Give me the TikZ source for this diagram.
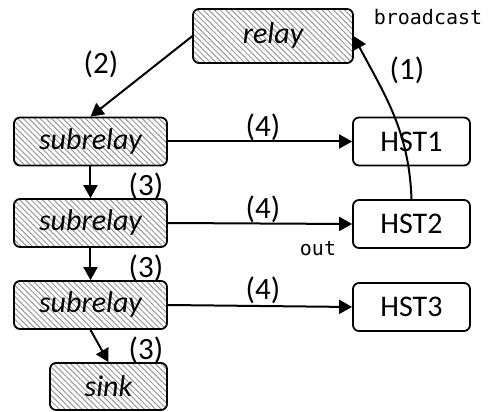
\documentclass[tikz,border=0pt]{standalone}
\usepackage{fontspec}
\setmainfont{Carlito}
\newfontfamily\monofont{DejaVu Sans Mono}
\usetikzlibrary{arrows.meta, patterns.meta}

\begin{document}
\begin{tikzpicture}[x=0.5pt, y=-0.5pt,
    box/.style={draw, line width=0.9pt, rounded corners=3pt, inner sep=0pt,
                minimum width=58.5pt, minimum height=24pt, font=\fontsize{15}{18}\selectfont},
    hatched/.style={box, pattern={Lines[angle=-45, distance=2pt, line width=0.5pt]}, pattern color=gray!80, font=\fontsize{15}{18}\selectfont\itshape},
    flow/.style={-{Triangle[length=6.5pt, width=7pt]}, line width=1pt},
    lbl/.style={font=\fontsize{15.5}{18}\selectfont},
    code/.style={font=\monofont\fontsize{10}{12}\selectfont}]

    \useasboundingbox (0,0) rectangle (489,412);

    % Column positions
    \def\xs{90.5}    % subrelay column
    \def\xh{411.5}   % host column

    % Relays
    \node[hatched, minimum width=80pt, minimum height=27pt] (relay) at (273, 36) {relay};
    \node[hatched, minimum width=76.5pt] (sub1) at (\xs, 141.5) {subrelay};
    \node[hatched, minimum width=76.5pt] (sub2) at (\xs, 223) {subrelay};
    \node[hatched, minimum width=76.5pt] (sub3) at (\xs, 305) {subrelay};
    \node[hatched, minimum height=23.5pt] (sink) at (108.5, 386.5) {sink};

    % Hosts
    \node[box] (hst1) at (\xh, 141.5) {HST1};
    \node[box] (hst2) at (\xh, 224) {HST2};
    \node[box] (hst3) at (\xh, 307) {HST3};

    % Arrows
    \draw[flow] (relay.west) -- (sub1.north);
    \draw[flow] (sub1.south) -- (sub2.north);
    \draw[flow] (sub2.south) -- (sub3.north);
    \draw[flow] (sub3.south) -- (sink.north);
    \draw[flow] (sub1.east) -- (hst1.west);
    \draw[flow] (sub2.east) -- (hst2.west);
    \draw[flow] (sub3.east) -- (hst3.west);
    \draw[flow] (hst2.north) to[out=92, in=-62] (relay.east);

    % Labels
    \node[lbl] (l1) at (407, 70) {(1)};
    \node[lbl] (l2) at (101, 64) {(2)};
    \node[lbl] (l3a) at (146, 186) {(3)};
    \node[lbl] (l3b) at (146, 268) {(3)};
    \node[lbl] (l3c) at (146, 350) {(3)};
    \node[lbl] (l4a) at (263, 127) {(4)};
    \node[lbl] (l4b) at (263, 209) {(4)};
    \node[lbl] (l4c) at (263, 290) {(4)};
    \node[code] (bc) at (428, 17) {broadcast};
    \node[code] (out) at (318, 249) {out};

\end{tikzpicture}
\end{document}
